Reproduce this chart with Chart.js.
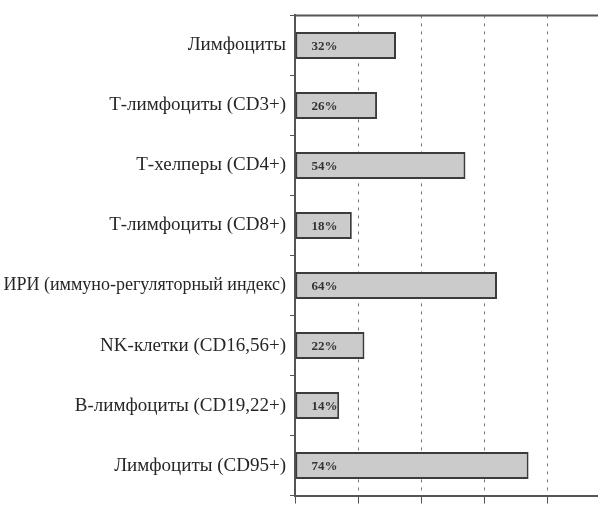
<!DOCTYPE html>
<html lang="ru">
<head>
<meta charset="utf-8">
<title>Иммунограмма</title>
<script src="https://cdn.jsdelivr.net/npm/chart.js@4.4.1/dist/chart.umd.min.js"></script>
<style>
  html, body { margin: 0; padding: 0; background: #fff; overflow: hidden; }
  #wrap { width: 598px; height: 511px; }
</style>
</head>
<body>
<div id="wrap"><canvas id="immunoChart" width="598" height="511"></canvas></div>
<script>
const categories = [
  'Лимфоциты',
  'Т-лимфоциты (CD3+)',
  'Т-хелперы (CD4+)',
  'Т-лимфоциты (CD8+)',
  'ИРИ (иммуно-регуляторный индекс)',
  'NK-клетки (CD16,56+)',
  'В-лимфоциты (CD19,22+)',
  'Лимфоциты (CD95+)'
];
const percentValues = [32, 26, 54, 18, 64, 22, 14, 74];
const gridTicks = [0, 20, 40, 60, 80];

class ImmunoChart {
  constructor() {
    this.initializeChart();
  }

  // percent text inside each bar, near its left end
  valueLabels() {
    return {
      id: 'valueLabels',
      afterDatasetsDraw(chart) {
        const ctx = chart.ctx;
        const meta = chart.getDatasetMeta(0);
        ctx.save();
        ctx.font = 'bold 13px "Liberation Serif", serif';
        ctx.fillStyle = '#333';
        ctx.textAlign = 'left';
        ctx.textBaseline = 'middle';
        meta.data.forEach((bar, i) => {
          ctx.fillText(percentValues[i] + '%', bar.base + 16, bar.y + 1);
        });
        ctx.restore();
      }
    };
  }

  topBorder() {
    return {
      id: 'topBorder',
      afterDraw(chart) {
        const { ctx, chartArea } = chart;
        ctx.save();
        ctx.strokeStyle = '#555';
        ctx.lineWidth = 2;
        ctx.beginPath();
        ctx.moveTo(chartArea.left, chartArea.top);
        ctx.lineTo(chartArea.right, chartArea.top);
        ctx.stroke();
        ctx.restore();
      }
    };
  }

  initializeChart() {
    const ctx = document.getElementById('immunoChart').getContext('2d');
    this.chart = new Chart(ctx, {
      type: 'bar',
      data: {
        labels: categories,
        datasets: [{
          data: percentValues,
          backgroundColor: '#cbcbcb',
          borderColor: '#3c3c3c',
          borderWidth: 2,
          borderSkipped: false,
          barPercentage: 0.45,
          categoryPercentage: 1
        }]
      },
      options: {
        indexAxis: 'y',
        responsive: false,
        animation: false,
        layout: { padding: { top: 12, left: 0, right: 0, bottom: 0 } },
        plugins: {
          legend: { display: false },
          tooltip: { enabled: false }
        },
        scales: {
          x: {
            min: 0,
            max: 96,
            afterBuildTicks: (scale) => {
              scale.ticks = gridTicks.map(v => ({ value: v }));
            },
            ticks: { display: false },
            grid: {
              color: '#7a7a7a',
              lineWidth: 1,
              tickLength: 8,
              drawTicks: true,
              tickColor: '#555'
            },
            border: { color: '#555', width: 2, dash: [3, 5], display: true }
          },
          y: {
            afterFit: (scale) => { scale.width = 295; },
            ticks: {
              color: '#262626',
              padding: 4,
              font: (c) => ({
                family: '"Liberation Serif", "DejaVu Serif", serif',
                size: c.index === 4 ? 18 : 19
              })
            },
            grid: {
              drawOnChartArea: false,
              drawTicks: true,
              tickLength: 5,
              color: '#555'
            },
            border: { color: '#555', width: 2 }
          }
        }
      },
      plugins: [this.valueLabels(), this.topBorder()]
    });
  }
}

window.immunoChart = new ImmunoChart();
</script>
</body>
</html>
